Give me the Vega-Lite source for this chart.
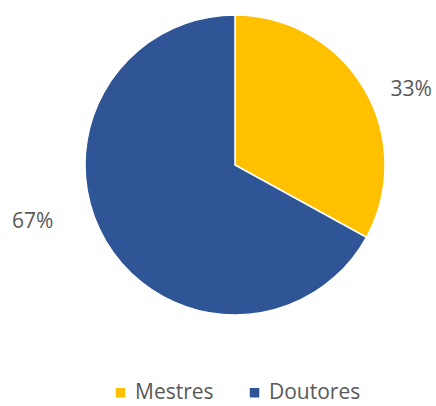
{
  "$schema": "https://vega.github.io/schema/vega-lite/v6.json",
  "width": 436,
  "height": 406,
  "padding": 0,
  "autosize": {"type": "none"},
  "background": "white",
  "config": {"view": {"stroke": null}},
  "data": {"values": [
    {"grau": "Mestres", "valor": 33, "rotulo": "33%", "ordem": 1},
    {"grau": "Doutores", "valor": 67, "rotulo": "67%", "ordem": 2}
  ]},
  "encoding": {
    "theta": {"field": "valor", "type": "quantitative", "stack": true},
    "order": {"field": "ordem", "type": "quantitative"}
  },
  "layer": [
    {
      "mark": {"type": "arc", "x": 235, "y": 165, "outerRadius": 150, "stroke": "white", "strokeWidth": 1.5},
      "encoding": {
        "color": {
          "field": "grau", "type": "nominal",
          "scale": {"domain": ["Mestres", "Doutores"], "range": ["#FFC000", "#2F5597"]},
          "legend": {
            "title": null, "orient": "none", "direction": "horizontal",
            "legendX": 110, "legendY": 382,
            "symbolType": "square", "symbolSize": 90, "symbolStrokeWidth": 0,
            "labelFont": "Open Sans", "labelFontSize": 21, "labelColor": "#595959",
            "labelOffset": 4, "columnPadding": 30
          }
        }
      }
    },
    {
      "mark": {"type": "text", "x": 235, "y": 165, "radius": 185, "dx": 17, "dy": 19, "font": "Open Sans", "fontSize": 21, "fill": "#595959"},
      "encoding": {"text": {"condition": {"test": "datum.grau === 'Mestres'", "field": "rotulo"}, "value": ""}}
    },
    {
      "mark": {"type": "text", "x": 235, "y": 165, "radius": 185, "dx": -43, "dy": -37, "font": "Open Sans", "fontSize": 21, "fill": "#595959"},
      "encoding": {"text": {"condition": {"test": "datum.grau === 'Doutores'", "field": "rotulo"}, "value": ""}}
    }
  ]
}
